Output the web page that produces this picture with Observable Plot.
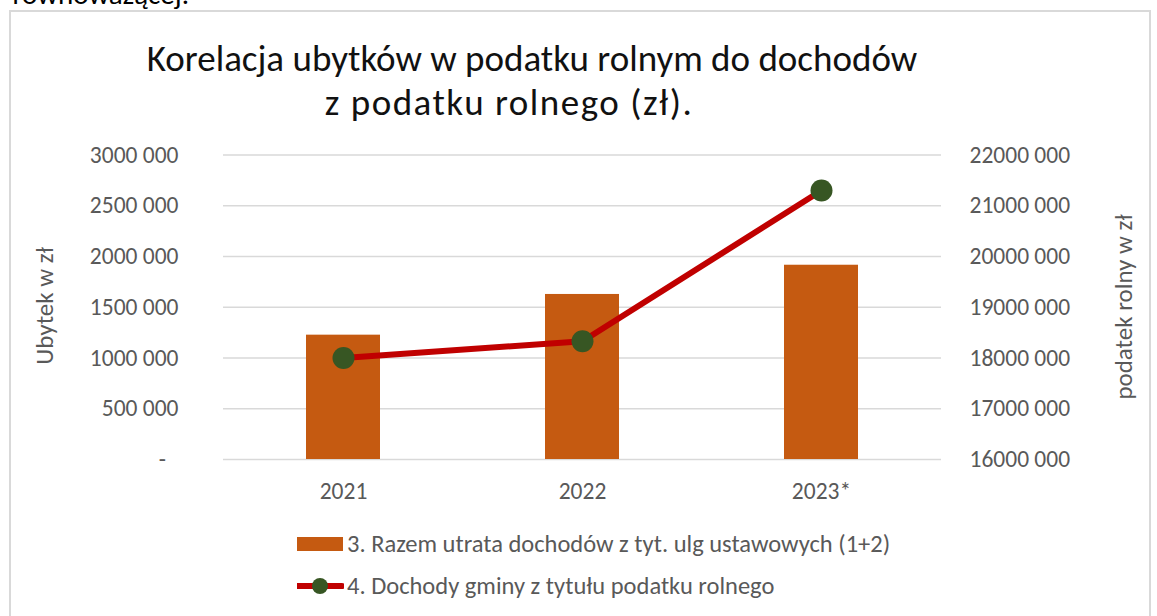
<!DOCTYPE html>
<html>
<head>
<meta charset="utf-8">
<script src="https://cdn.jsdelivr.net/npm/d3@7"></script>
<script src="https://cdn.jsdelivr.net/npm/@observablehq/plot@0.6"></script>
<style>
  html, body { margin: 0; padding: 0; background: #fff; }
  body { width: 1157px; height: 616px; position: relative; overflow: hidden; font-family: Carlito, Calibri, Lato, sans-serif; }
  .frag { position: absolute; left: 0; top: -20px; width: 189px; text-align: right; font-size: 29px; line-height: 1; color: #000; white-space: nowrap; }
  .frame { position: absolute; left: 9px; top: 10px; width: 1142px; height: 640px; border: 2px solid #d9d9d9; box-sizing: border-box; }
  .title { position: absolute; text-align: center; font-size: 37px; color: #111; white-space: nowrap; line-height: 44px; }
  .t1 { left: 82px; width: 900px; top: 37px; }
  .t2 { left: 59px; width: 900px; top: 81px; letter-spacing: 1.5px; }
  #chart { position: absolute; left: 0; top: 130px; }
  .ytitle { position: absolute; font-size: 25px; color: #595959; white-space: nowrap; transform: translate(-50%, -50%) rotate(-90deg); }
  .legend { position: absolute; left: 297px; height: 24px; line-height: 24px; font-size: 24.5px; color: #595959; white-space: nowrap; display: flex; align-items: center; }
  .legend svg { margin-right: 3px; flex: none; }
</style>
</head>
<body>
<div class="frag">równoważącej.</div>
<div class="frame"></div>
<div class="title t1">Korelacja ubytków w podatku rolnym do dochodów</div>
<div class="title t2">z podatku rolnego (zł).</div>
<div id="chart"></div>
<div class="ytitle" style="left:44px; top:306px;">Ubytek w zł</div>
<div class="ytitle" style="left:1123px; top:307px;">podatek rolny w zł</div>
<div class="legend" style="top:532px;">
  <svg width="47" height="24"><rect x="0" y="5" width="46" height="14" fill="#C55A11"></rect></svg>
  <span>3. Razem utrata dochodów z tyt. ulg ustawowych (1+2)</span>
</div>
<div class="legend" style="top:574px;">
  <svg width="47" height="24"><line x1="1" y1="12" x2="45" y2="12" stroke="#C00000" stroke-width="6" stroke-linecap="round"></line><circle cx="23" cy="12" r="8" fill="#375623"></circle></svg>
  <span>4. Dochody gminy z tytułu podatku rolnego</span>
</div>
<script>
// ---- data ----
const years = ["2021", "2022", "2023*"];
const losses = [1225000, 1626000, 1914000];        // 3. Razem utrata dochodów z tyt. ulg ustawowych (1+2)
const incomes = [18000000, 18331000, 21300000];    // 4. Dochody gminy z tytułu podatku rolnego
const leftTicks = [0, 500000, 1000000, 1500000, 2000000, 2500000, 3000000];
const rightTicks = [16000000, 17000000, 18000000, 19000000, 20000000, 21000000, 22000000];

const leftMax = 3000000;
const rightMin = 16000000, rightMax = 22000000;
const toLeft = v => (v - rightMin) / (rightMax - rightMin) * leftMax;
const fromLeft = v => rightMin + v / leftMax * (rightMax - rightMin);

const fmt = v => {
  const r = Math.round(v);
  if (r === 0) return "-\u2007";
  const k = Math.floor(r / 1000);
  return k + " " + String(r % 1000).padStart(3, "0");
};

const rows = years.map((y, i) => ({year: y, loss: losses[i], income: incomes[i]}));

const fs = 23.5;
const chart = Plot.plot({
  width: 1157,
  height: 380,
  marginTop: 24.5,
  marginBottom: 51,
  marginLeft: 223,
  marginRight: 216,
  style: {fontFamily: "Carlito, Calibri, Lato, sans-serif", fontSize: fs + "px", color: "#595959", background: "transparent"},
  x: {domain: years, paddingInner: 0.69, paddingOuter: 0.345, align: 0.5},
  y: {domain: [0, leftMax]},
  marks: [
    Plot.gridY(leftTicks, {stroke: "#d9d9d9", strokeOpacity: 1, strokeWidth: 1.5}),
    Plot.axisY(leftTicks, {anchor: "left", tickSize: 0, tickPadding: 45, tickFormat: fmt, label: null, fill: "#595959", fontSize: fs}),
    Plot.axisY(rightTicks.map(toLeft), {anchor: "right", tickSize: 0, tickPadding: 28, tickFormat: d => fmt(fromLeft(d)), label: null, fill: "#595959", fontSize: fs, textAnchor: "start"}),
    Plot.axisX({tickSize: 0, tickPadding: 23, label: null, fill: "#595959", fontSize: fs}),
    Plot.barY(rows, {x: "year", y: "loss", fill: "#C55A11"}),
    Plot.line(rows, {x: "year", y: d => toLeft(d.income), stroke: "#C00000", strokeWidth: 6}),
    Plot.dot(rows, {x: "year", y: d => toLeft(d.income), r: 11, fill: "#375623", stroke: "none"})
  ]
});
document.getElementById("chart").appendChild(chart);
</script>
</body>
</html>
